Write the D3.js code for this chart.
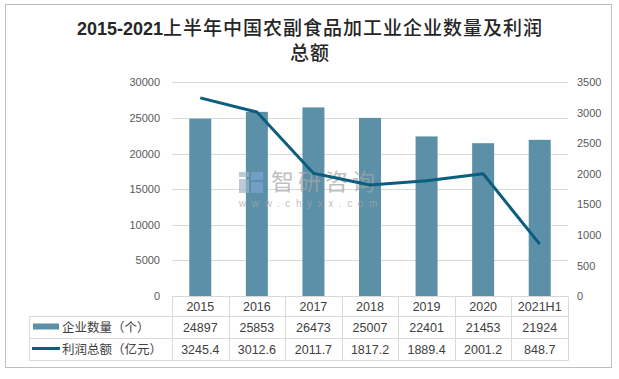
<!DOCTYPE html>
<html><head><meta charset="utf-8">
<script src="https://cdn.jsdelivr.net/npm/d3@7"></script>
<style>body{margin:0;background:#fff}svg{display:block}</style>
</head><body>
<svg id="c" width="619" height="379"></svg>
<script>
const categories = ["2015","2016","2017","2018","2019","2020","2021H1"];
const enterprises = [24897,25853,26473,25007,22401,21453,21924];
const profits = [3245.4,3012.6,2011.7,1817.2,1889.4,2001.2,848.7];
const profitLabels = ["3245.4","3012.6","2011.7","1817.2","1889.4","2001.2","848.7"];
const leftTicks = [0,5000,10000,15000,20000,25000,30000];
const rightTicks = [0,500,1000,1500,2000,2500,3000,3500];
const seriesNames = ["企业数量（个）","利润总额（亿元）"];

const barColor = "#5b90a8", lineColor = "#0c5e7e", grid = "#d9d9d9";
const numFont = "'Liberation Sans', Arial, sans-serif";
const cjkFont = "'Noto Sans CJK SC', 'Liberation Sans', sans-serif";
const svg = d3.select("#c");

// outer border
svg.append("rect").attr("x",5.5).attr("y",4.5).attr("width",606).attr("height",363)
  .attr("fill","#fff").attr("stroke","#bfbfbf").attr("stroke-width",1);

// title
const t1 = svg.append("text").attr("x",310).attr("y",35).attr("text-anchor","middle").attr("fill","#262626");
t1.append("tspan").attr("font-family",numFont).attr("font-weight","bold").attr("font-size",18).text("2015-2021");
t1.append("tspan").attr("font-family",cjkFont).attr("font-size",19).attr("letter-spacing",1).attr("font-weight",500).text("上半年中国农副食品加工业企业数量及利润");
svg.append("text").attr("x",310).attr("y",60).attr("text-anchor","middle").attr("fill","#262626")
  .attr("font-family",cjkFont).attr("font-size",19).attr("letter-spacing",1).attr("font-weight",500).text("总额");

const x0 = 172, x1 = 568, yTop = 82.3, yBot = 296;
const x = d3.scaleBand().domain(categories).range([x0,x1]).paddingInner(0).paddingOuter(0);
const yL = d3.scaleLinear().domain([0,30000]).range([yBot,yTop]);
const yR = d3.scaleLinear().domain([0,3500]).range([yBot,yTop]);

// gridlines
svg.append("g").selectAll("line").data(leftTicks.filter(d=>d>0)).join("line")
  .attr("x1",x0).attr("x2",x1).attr("y1",d=>Math.round(yL(d))+0.5).attr("y2",d=>Math.round(yL(d))+0.5)
  .attr("stroke",grid).attr("stroke-width",1);

// left axis labels
const la = d3.axisLeft(yL).tickValues(leftTicks).tickSize(0).tickPadding(0).tickFormat(d3.format("d"));
const gl = svg.append("g").attr("transform","translate(160,0)").call(la);
gl.select(".domain").remove();
gl.selectAll("text").attr("font-family",numFont).attr("font-size",11).attr("fill","#595959");

// right axis labels
const ra = d3.axisRight(yR).tickValues(rightTicks).tickSize(0).tickPadding(0).tickFormat(d3.format("d"));
const gr = svg.append("g").attr("transform","translate(577,0)").call(ra);
gr.select(".domain").remove();
gr.selectAll("text").attr("font-family",numFont).attr("font-size",11).attr("fill","#595959");

// bars
const bw = 22;
svg.append("g").selectAll("rect").data(categories).join("rect")
  .attr("x",(d)=>x(d)+x.bandwidth()/2-bw/2).attr("width",bw)
  .attr("y",(d,i)=>yL(enterprises[i])).attr("height",(d,i)=>yBot-yL(enterprises[i]))
  .attr("fill",barColor);

// watermark
const wm = svg.append("g").attr("opacity",0.7);
wm.append("rect").attr("x",239).attr("y",172).attr("width",10).attr("height",5).attr("fill","#9fb3c8");
wm.append("rect").attr("x",239).attr("y",179).attr("width",10).attr("height",14).attr("fill","#9fb3c8");
wm.append("rect").attr("x",251).attr("y",172).attr("width",12).attr("height",8).attr("fill","#7fa6d1");
wm.append("rect").attr("x",251).attr("y",182).attr("width",12).attr("height",11).attr("fill","#7fa6d1");
wm.append("text").attr("x",271).attr("y",190).attr("font-family",cjkFont).attr("font-size",23)
  .attr("letter-spacing",4).attr("fill","#a6a6a6").text("智研咨询");
wm.append("text").attr("x",239).attr("y",207).attr("font-family",numFont).attr("font-size",10)
  .attr("letter-spacing",5.6).attr("fill","#a6a6a6").text("www.chyxx.com");

// line
const line = d3.line().x((d,i)=>x(categories[i])+x.bandwidth()/2).y(d=>yR(d));
svg.append("path").datum(profits).attr("d",line).attr("fill","none")
  .attr("stroke",lineColor).attr("stroke-width",3).attr("stroke-linejoin","round");

// data table
const tl = 29.5, rows = [296.5, 316.5, 338.5, 360.5];
const tg = svg.append("g").attr("stroke",grid).attr("stroke-width",1);
tg.append("line").attr("x1",x0).attr("x2",x1).attr("y1",rows[0]).attr("y2",rows[0]);
[1,2,3].forEach(r=>tg.append("line").attr("x1",tl).attr("x2",x1+0.5).attr("y1",rows[r]).attr("y2",rows[r]));
tg.append("line").attr("x1",tl).attr("x2",tl).attr("y1",rows[1]).attr("y2",rows[3]);
const bounds = categories.map(c=>x(c)).concat([x1]);
tg.selectAll("line.v").data(bounds).join("line").attr("class","v")
  .attr("x1",d=>Math.round(d)+0.5).attr("x2",d=>Math.round(d)+0.5).attr("y1",rows[0]).attr("y2",rows[3]);

const txt = svg.append("g").attr("font-family",numFont).attr("font-size",12.5).attr("fill","#404040").attr("text-anchor","middle");
txt.selectAll("text.h").data(categories).join("text").attr("class","h")
  .attr("x",d=>x(d)+x.bandwidth()/2).attr("y",311).text(d=>d);
txt.selectAll("text.e").data(enterprises).join("text").attr("class","e")
  .attr("x",(d,i)=>x(categories[i])+x.bandwidth()/2).attr("y",332).text(d=>d);
txt.selectAll("text.p").data(profitLabels).join("text").attr("class","p")
  .attr("x",(d,i)=>x(categories[i])+x.bandwidth()/2).attr("y",354).text(d=>d);

// legend keys
svg.append("rect").attr("x",33).attr("y",323.5).attr("width",26).attr("height",6).attr("fill",barColor);
svg.append("line").attr("x1",32).attr("x2",60).attr("y1",348.5).attr("y2",348.5).attr("stroke",lineColor).attr("stroke-width",3);
svg.append("text").attr("x",62).attr("y",332).attr("font-family",cjkFont).attr("font-size",12.5).attr("fill","#404040").text(seriesNames[0]);
svg.append("text").attr("x",62).attr("y",354).attr("font-family",cjkFont).attr("font-size",12.5).attr("fill","#404040").text(seriesNames[1]);
</script>
</body></html>
